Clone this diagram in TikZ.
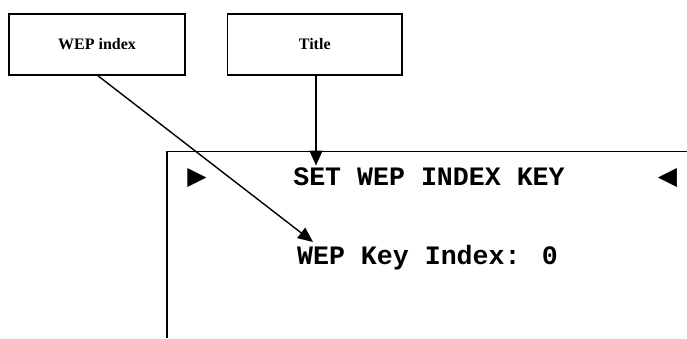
\documentclass[tikz,border=0pt]{standalone}
\usepackage{fontspec}
\setmainfont{Liberation Serif}
\newfontfamily\monofont{Liberation Mono}
\newfontfamily\symfont{DejaVu Sans}
\usetikzlibrary{arrows.meta}
\tikzset{
  labelbox/.style={draw, line width=1.6pt, minimum width=176pt, minimum height=61pt, inner sep=0pt, font=\fontsize{16}{18}\selectfont\bfseries},
  screentext/.style={anchor=base, inner sep=0pt, font=\fontsize{26.6}{30}\selectfont\monofont\bfseries},
  pointer/.style={inner sep=0pt, font=\fontsize{25}{27}\selectfont\symfont},
  callout/.style={line width=1.4pt, -{Triangle[length=15pt,width=13pt]}},
}
\begin{document}
\begin{tikzpicture}[x=1pt,y=-1pt]
\useasboundingbox (0,0) rectangle (687,338);
\node[labelbox] (wep) at (97,44.5) {WEP index};
\node[labelbox, minimum width=174.5pt] (title) at (314.75,44.5) {Title};
\coordinate (scrTR) at (687,151.5);
\coordinate (scrTL) at (167,151.5);
\coordinate (scrBL) at (167,338);
\draw[line width=1.6pt] (scrTR) -- (scrTL) -- (scrBL);
\node[screentext] (head) at (429,185) {SET WEP INDEX KEY};
\node[screentext] (keyidx) at (427.5,264) {WEP Key Index: 0};
\node[pointer] (pl) at (197,178) {▶};
\node[pointer] (pr) at (667.5,178) {◀};
\coordinate (tA) at (316,165.5);
\coordinate (wA) at (313,242);
\draw[callout] (title.south -| tA) -- (tA);
\draw[callout] (wep.south -| 98,0) -- (wA);
\end{tikzpicture}
\end{document}
